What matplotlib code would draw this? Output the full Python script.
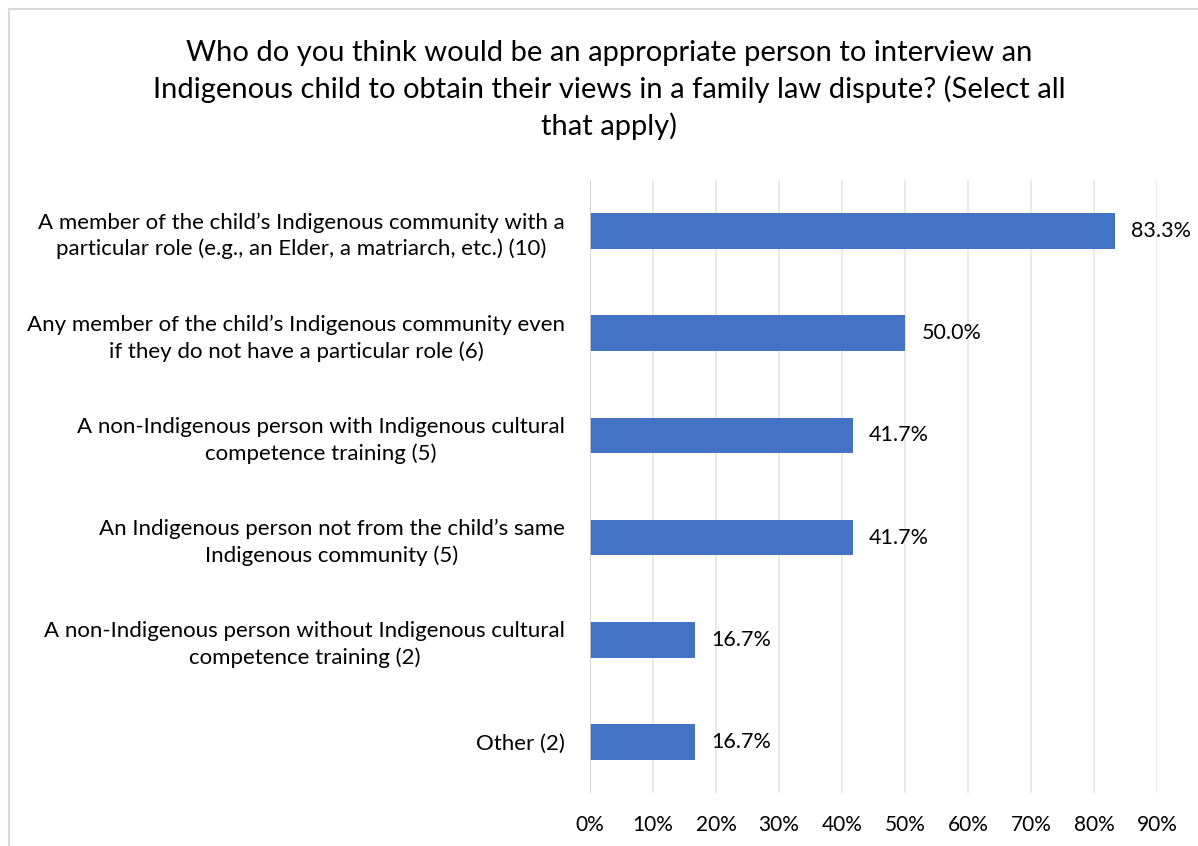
import matplotlib.pyplot as plt
from matplotlib.patches import Rectangle
from matplotlib.ticker import MultipleLocator, PercentFormatter

categories = [
    "A member of the child\u2019s Indigenous community with a\nparticular role (e.g., an Elder, a matriarch, etc.) (10)",
    "Any member of the child\u2019s Indigenous community even\nif they do not have a particular role (6)",
    "A non-Indigenous person with Indigenous cultural\ncompetence training (5)",
    "An Indigenous person not from the child\u2019s same\nIndigenous community (5)",
    "A non-Indigenous person without Indigenous cultural\ncompetence training (2)",
    "Other (2)",
]
values = [83.3, 50.0, 41.7, 41.7, 16.7, 16.7]

title = ("Who do you think would be an appropriate person to interview an\n"
         "Indigenous child to obtain their views in a family law dispute? (Select all\n"
         "that apply)")

plt.rcParams['font.family'] = ['Lato', 'DejaVu Sans']

fig = plt.figure(figsize=(11.98, 8.46), dpi=100)
ax = fig.add_axes([590 / 1198, 1 - 793 / 846, (1157 - 590) / 1198, (793 - 180) / 846])

# light grey frame around the chart area
fig.patches.append(Rectangle((9 / 1198, -0.1), 1.2, 1 - 9 / 846 + 0.1,
                             transform=fig.transFigure, fill=False,
                             edgecolor='#d9d9d9', linewidth=1.5))

y = list(range(len(categories)))
ax.barh(y, values, height=0.35, color='#4472c4', zorder=3)
for yi, v in zip(y, values):
    ax.text(v + 2.6, yi, '{:.1f}%'.format(v), va='center', ha='left',
            fontsize=15.5, color='#000000')

ax.set_xlim(0, 90)
ax.set_ylim(len(categories) - 0.5, -0.5)
ax.xaxis.set_major_locator(MultipleLocator(10))
ax.xaxis.set_major_formatter(PercentFormatter(decimals=0))
ax.grid(axis='x', color='#e6e6e6', linewidth=1.2, zorder=0)
ax.axvline(0, color='#d0d0d0', linewidth=1.2, zorder=4)

ax.set_yticks(y)
ax.set_yticklabels(categories)
for lab in ax.get_yticklabels():
    lab.set_multialignment('center')
    lab.set_linespacing(1.35)
ax.tick_params(axis='y', length=0, pad=18, labelsize=16)
ax.tick_params(axis='x', length=0, pad=16, labelsize=15)

for s in ax.spines.values():
    s.set_visible(False)

fig.text(609 / 1198, 1 - 90 / 846, title, ha='center', va='center',
         fontsize=21, linespacing=1.42)

fig.savefig('out.png', dpi=100)
